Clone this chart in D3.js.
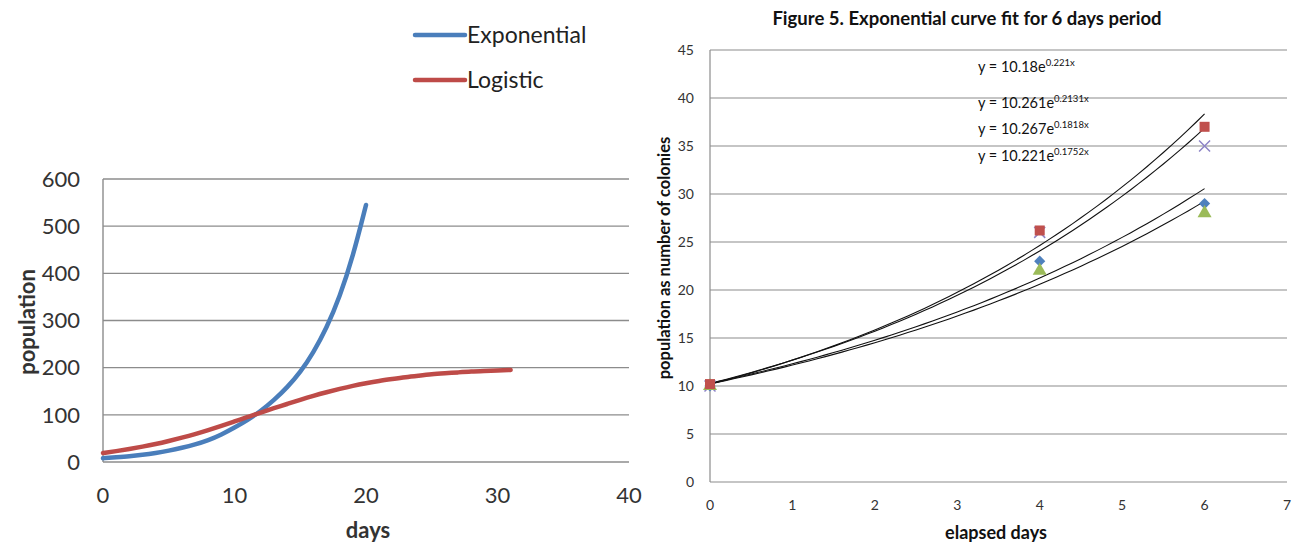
<!DOCTYPE html>
<html>
<head>
<meta charset="utf-8">
<script src="https://cdn.jsdelivr.net/npm/d3@7"></script>
<style>
  body { margin: 0; background: #fff; }
  svg { display: block; font-family: Lato, "Open Sans", sans-serif; }
</style>
</head>
<body>
<div id="chart"></div>
<script>
// Left chart: population over days
const days = d3.range(0, 32);
const exponentialValues = [8, 10, 12, 15, 19, 24, 30, 37, 46, 58, 73, 89, 108, 131, 158, 190, 232, 284, 350, 435, 545];
const logisticValues = [19, 23, 27.5, 32.5, 38, 44.5, 51.5, 59, 67.5, 76.5, 86, 95.5, 105, 114, 123, 132, 140.5, 148, 155, 161.5, 167,
                        172, 176, 180, 183, 186, 188, 190, 192, 193, 194, 195];
const leftXTicks = [0, 10, 20, 30, 40];
const leftYTicks = [0, 100, 200, 300, 400, 500, 600];

// Right chart: colonies over elapsed days
const elapsedDays = [0, 4, 6];
const seriesBlue = [10, 23, 29];
const seriesRed = [10.2, 26.2, 37];
const seriesGreen = [10, 22, 28];
const seriesPurple = [10, 26, 35];
// trendline coefficients y = a * e^(b x), as printed on the chart
const fitA = [10.18, 10.261, 10.267, 10.221];
const fitB = [0.221, 0.2131, 0.1818, 0.1752];
const fitLabels = ["0.221x", "0.2131x", "0.1818x", "0.1752x"];
const fitPrefix = ["y = 10.18e", "y = 10.261e", "y = 10.267e", "y = 10.221e"];
const rightXTicks = [0, 1, 2, 3, 4, 5, 6, 7];
const rightYTicks = [0, 5, 10, 15, 20, 25, 30, 35, 40, 45];

const width = 1297, height = 542;
const gridColor = "#8c8c8c";
const textColor = "#333";

const svg = d3.select("#chart").append("svg")
    .attr("width", width)
    .attr("height", height);

// ---------- Left chart ----------
const xL = d3.scaleLinear().domain([0, 40]).range([103, 629]);
const yL = d3.scaleLinear().domain([0, 600]).range([462, 179]);

const left = svg.append("g");

left.selectAll(".gridL")
    .data(leftYTicks.filter(d => d > 0))
    .enter().append("line")
    .attr("x1", xL(0)).attr("x2", xL(40))
    .attr("y1", d => yL(d)).attr("y2", d => yL(d))
    .attr("stroke", gridColor).attr("stroke-width", 1.4);

left.append("line")
    .attr("x1", xL(0)).attr("x2", xL(0))
    .attr("y1", yL(0)).attr("y2", yL(600))
    .attr("stroke", gridColor).attr("stroke-width", 1.4);
left.append("line")
    .attr("x1", xL(0)).attr("x2", xL(40))
    .attr("y1", yL(0)).attr("y2", yL(0))
    .attr("stroke", gridColor).attr("stroke-width", 1.4);

left.selectAll(".ylab")
    .data(leftYTicks)
    .enter().append("text")
    .attr("x", 80)
    .attr("y", d => yL(d))
    .attr("dy", "0.35em")
    .attr("text-anchor", "end")
    .attr("font-size", 22)
    .attr("fill", textColor)
    .text(d => d);

left.selectAll(".xlab")
    .data(leftXTicks)
    .enter().append("text")
    .attr("x", d => xL(d))
    .attr("y", 495)
    .attr("dy", "0.35em")
    .attr("text-anchor", "middle")
    .attr("font-size", 22)
    .attr("fill", textColor)
    .text(d => d);

left.append("text")
    .attr("x", 368).attr("y", 530).attr("dy", "0.35em")
    .attr("text-anchor", "middle")
    .attr("font-size", 22).attr("font-weight", "bold")
    .attr("fill", textColor)
    .text("days");

left.append("text")
    .attr("transform", "translate(27,322) rotate(-90)")
    .attr("dy", "0.35em")
    .attr("text-anchor", "middle")
    .attr("font-size", 22).attr("font-weight", "bold")
    .attr("fill", textColor)
    .text("population");

const lineL = d3.line()
    .x(d => xL(d[0]))
    .y(d => yL(d[1]))
    .curve(d3.curveBasis);

left.append("path")
    .attr("d", lineL(exponentialValues.map((v, i) => [days[i], v])))
    .attr("fill", "none").attr("stroke", "#4a7ebb").attr("stroke-width", 4.5)
    .attr("stroke-linecap", "round");
left.append("path")
    .attr("d", lineL(logisticValues.map((v, i) => [days[i], v])))
    .attr("fill", "none").attr("stroke", "#be4b48").attr("stroke-width", 4.5)
    .attr("stroke-linecap", "round");

// legend
const legend = [{name: "Exponential", color: "#4a7ebb", y: 35}, {name: "Logistic", color: "#be4b48", y: 80}];
const lg = left.selectAll(".legend").data(legend).enter().append("g");
lg.append("line")
    .attr("x1", 415).attr("x2", 465)
    .attr("y1", d => d.y).attr("y2", d => d.y)
    .attr("stroke", d => d.color).attr("stroke-width", 4.5)
    .attr("stroke-linecap", "round");
lg.append("text")
    .attr("x", 467).attr("y", d => d.y).attr("dy", "0.35em")
    .attr("font-size", 23)
    .attr("fill", "#222")
    .text(d => d.name);

// ---------- Right chart ----------
const xR = d3.scaleLinear().domain([0, 7]).range([710, 1287]);
const yR = d3.scaleLinear().domain([0, 45]).range([482, 50]);

const right = svg.append("g");

right.append("text")
    .attr("x", 967).attr("y", 19).attr("dy", "0.35em")
    .attr("text-anchor", "middle")
    .attr("font-size", 18.5).attr("font-weight", "bold")
    .attr("fill", "#111")
    .text("Figure 5. Exponential curve fit for 6 days period");

right.selectAll(".gridR")
    .data(rightYTicks.filter(d => d > 0))
    .enter().append("line")
    .attr("x1", xR(0)).attr("x2", xR(7))
    .attr("y1", d => yR(d)).attr("y2", d => yR(d))
    .attr("stroke", gridColor).attr("stroke-width", 1.2);

right.append("line")
    .attr("x1", xR(0)).attr("x2", xR(0))
    .attr("y1", yR(0)).attr("y2", yR(45))
    .attr("stroke", gridColor).attr("stroke-width", 1.2);
right.append("line")
    .attr("x1", xR(0)).attr("x2", xR(7))
    .attr("y1", yR(0)).attr("y2", yR(0))
    .attr("stroke", gridColor).attr("stroke-width", 1.2);

right.selectAll(".ylabR")
    .data(rightYTicks)
    .enter().append("text")
    .attr("x", 694)
    .attr("y", d => yR(d))
    .attr("dy", "0.35em")
    .attr("text-anchor", "end")
    .attr("font-size", 14)
    .attr("fill", textColor)
    .text(d => d);

right.selectAll(".xlabR")
    .data(rightXTicks)
    .enter().append("text")
    .attr("x", d => xR(d))
    .attr("y", 505)
    .attr("dy", "0.35em")
    .attr("text-anchor", "middle")
    .attr("font-size", 14)
    .attr("fill", textColor)
    .text(d => d);

right.append("text")
    .attr("x", 996).attr("y", 533).attr("dy", "0.35em")
    .attr("text-anchor", "middle")
    .attr("font-size", 18).attr("font-weight", "bold")
    .attr("fill", "#111")
    .text("elapsed days");

right.append("text")
    .attr("transform", "translate(664,258) rotate(-90)")
    .attr("dy", "0.35em")
    .attr("text-anchor", "middle")
    .attr("font-size", 16.5).attr("font-weight", "bold")
    .attr("fill", "#111")
    .text("population as number of colonies");

// trendlines
const xs = d3.range(0, 6.001, 0.1);
const lineR = d3.line().x(d => xR(d[0])).y(d => yR(d[1]));
fitA.forEach((a, i) => {
    right.append("path")
        .attr("d", lineR(xs.map(x => [x, a * Math.exp(fitB[i] * x)])))
        .attr("fill", "none")
        .attr("stroke", "#111")
        .attr("stroke-width", 1.1);
});

// equation labels
const eqY = [67, 103, 129, 156];
fitPrefix.forEach((p, i) => {
    const t = right.append("text")
        .attr("x", 978).attr("y", eqY[i]).attr("dy", "0.35em")
        .attr("font-size", 14.5)
        .attr("fill", "#111");
    t.append("tspan").text(p);
    t.append("tspan").attr("dy", -6).attr("font-size", 9.5).text(fitLabels[i]);
});

// markers
const ms = 10;
// purple X
elapsedDays.forEach((d, i) => {
    const cx = xR(d), cy = yR(seriesPurple[i]);
    right.append("path")
        .attr("d", `M${cx - 5.5},${cy - 5.5}L${cx + 5.5},${cy + 5.5}M${cx - 5.5},${cy + 5.5}L${cx + 5.5},${cy - 5.5}`)
        .attr("stroke", "#8d84c6").attr("stroke-width", 1.5);
});
// blue diamond
right.selectAll(".dia")
    .data(elapsedDays.map((d, i) => [d, seriesBlue[i]]))
    .enter().append("path")
    .attr("transform", d => `translate(${xR(d[0])},${yR(d[1])})`)
    .attr("d", d3.symbol(d3.symbolDiamond2, 80)())
    .attr("fill", "#4f81bd");
// green triangle
right.selectAll(".tri")
    .data(elapsedDays.map((d, i) => [d, seriesGreen[i]]))
    .enter().append("path")
    .attr("transform", d => `translate(${xR(d[0])},${yR(d[1])})`)
    .attr("d", d3.symbol(d3.symbolTriangle, 85)())
    .attr("fill", "#9bbb59");
// red square
right.selectAll(".sq")
    .data(elapsedDays.map((d, i) => [d, seriesRed[i]]))
    .enter().append("rect")
    .attr("x", d => xR(d[0]) - ms / 2)
    .attr("y", d => yR(d[1]) - ms / 2)
    .attr("width", ms).attr("height", ms)
    .attr("fill", "#c0504d");
</script>
</body>
</html>
